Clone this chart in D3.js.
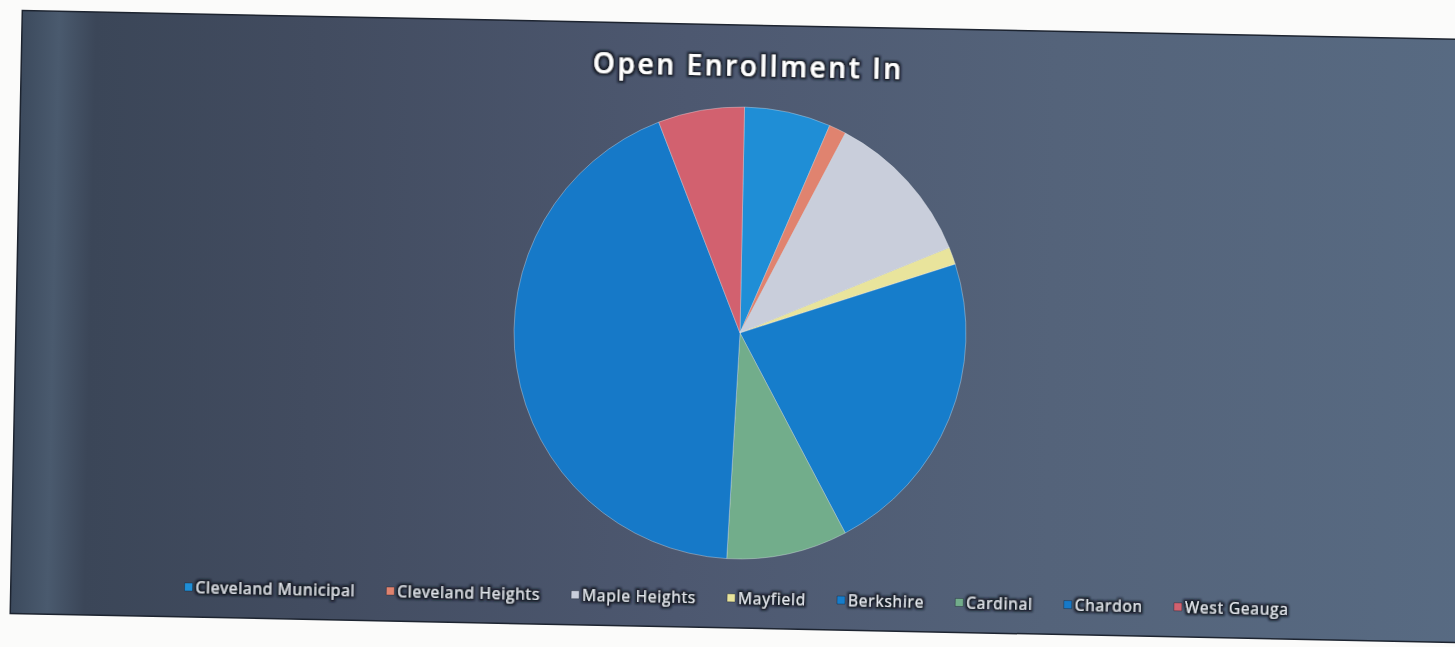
<!DOCTYPE html>
<html>
<head>
<meta charset="utf-8">
<script src="https://cdn.jsdelivr.net/npm/d3@7"></script>
<style>
  html, body { margin: 0; padding: 0; background: #fbfbfa; }
  svg { display: block; }
</style>
</head>
<body>
<svg id="chart" width="1455" height="647"></svg>
<script>
// Open enrollment counts by district
const districts = ["Cleveland Municipal", "Cleveland Heights", "Maple Heights", "Mayfield",
                   "Berkshire", "Cardinal", "Chardon", "West Geauga"];
const students  = [5, 1, 9, 1, 18, 7, 35, 5];
const sliceColors = ["#1f8ed6", "#e0836f", "#c9cedb", "#e9e49c",
                     "#167dcb", "#72ad8b", "#1679c8", "#d2616f"];
const chartTitle = "Open Enrollment In";

const W = 1455, H = 647;
const cx = 740, cy = 333, radius = 226;
const tilt = 1.15;   // the whole panel sits slightly askew

const svg = d3.select("#chart");
const defs = svg.append("defs");

// Panel background: dark slate, lightening to the right
const grad = defs.append("linearGradient").attr("id", "panelGrad")
  .attr("x1", "0%").attr("x2", "100%").attr("y1", "0%").attr("y2", "0%");
[[0, "#3c4a5d"], [0.025, "#4a5a6e"], [0.05, "#3b4658"], [0.2, "#424c60"],
 [0.45, "#4d5870"], [0.7, "#54637a"], [1, "#586b83"]]
  .forEach(([o, c]) => grad.append("stop").attr("offset", o).attr("stop-color", c));

// dark halo behind white text
const halo = defs.append("filter").attr("id", "halo")
  .attr("x", "-10%").attr("y", "-40%").attr("width", "120%").attr("height", "180%");
halo.append("feMorphology").attr("in", "SourceAlpha").attr("operator", "dilate").attr("radius", 1.6).attr("result", "thick");
halo.append("feGaussianBlur").attr("in", "thick").attr("stdDeviation", 1.2).attr("result", "blur");
halo.append("feFlood").attr("flood-color", "#10151f").attr("flood-opacity", 0.9);
halo.append("feComposite").attr("in2", "blur").attr("operator", "in").attr("result", "shadow");
const merge = halo.append("feMerge");
merge.append("feMergeNode").attr("in", "shadow");
merge.append("feMergeNode").attr("in", "SourceGraphic");

const panel = svg.append("g").attr("transform", `rotate(${tilt},${cx},${cy})`);

panel.append("rect")
  .attr("x", 16).attr("y", 25).attr("width", 1480).attr("height", 603)
  .attr("fill", "url(#panelGrad)")
  .attr("stroke", "#1d2430").attr("stroke-width", 1.5);

// Title
panel.append("text")
  .attr("x", cx + 3).attr("y", 76)
  .attr("text-anchor", "middle")
  .attr("font-family", "'Open Sans', sans-serif")
  .attr("font-weight", 600)
  .attr("font-size", 28)
  .attr("letter-spacing", 2.6)
  .attr("fill", "#ffffff")
  .attr("filter", "url(#halo)")
  .text(chartTitle);

// Pie
const pie = d3.pie().sort(null).value(d => d)(students);
const arc = d3.arc().innerRadius(0).outerRadius(radius);
const color = d3.scaleOrdinal().domain(districts).range(sliceColors);

panel.append("g").attr("transform", `translate(${cx},${cy})`)
  .selectAll("path").data(pie).join("path")
  .attr("d", arc)
  .attr("fill", (d, i) => color(districts[i]))
  .attr("stroke", "rgba(230,235,240,0.45)")
  .attr("stroke-width", 0.8);

// Legend along the bottom
const legend = panel.append("g").attr("transform", "translate(0,598)");
const items = legend.selectAll("g").data(districts).join("g");
items.append("rect")
  .attr("y", -4).attr("width", 8).attr("height", 8)
  .attr("fill", d => color(d))
  .attr("stroke", "rgba(20,25,35,0.6)").attr("stroke-width", 0.6);
items.append("text")
  .attr("x", 11).attr("y", 5.5)
  .attr("font-family", "'Open Sans', sans-serif")
  .attr("font-size", 15.5)
  .attr("letter-spacing", 0.8)
  .attr("fill", "#e3e7ee")
  .attr("filter", "url(#halo)")
  .text(d => d);

const gap = 31;
const widths = [];
items.each(function () { widths.push(11 + d3.select(this).select("text").node().getComputedTextLength()); });
const total = d3.sum(widths) + gap * (widths.length - 1);
let x0 = 742 - total / 2;
items.attr("transform", (d, i) => {
  const x = x0;
  x0 += widths[i] + gap;
  return `translate(${x},0)`;
});
</script>
</body>
</html>
